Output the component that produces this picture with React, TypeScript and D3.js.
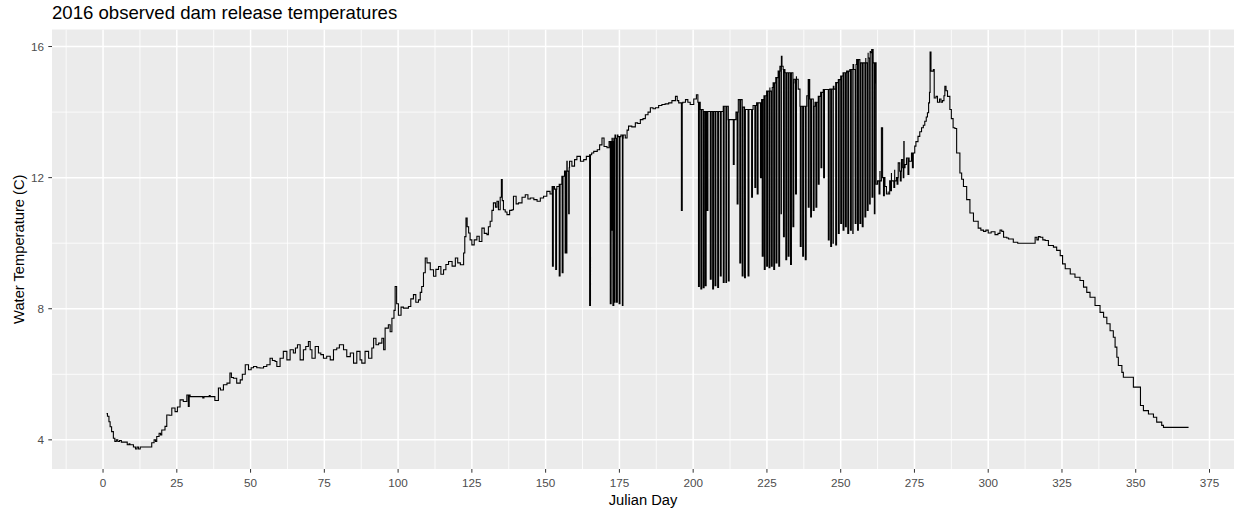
import React from "react";
import * as d3 from "d3";

type Reading = [number, number]; // [julian day, water temperature °C]

const WIDTH = 1241;
const HEIGHT = 512;
const panel = { left: 52, right: 1234, top: 29.5, bottom: 469 };

const titleText = "2016 observed dam release temperatures";
const xTitle = "Julian Day";
const yTitle = "Water Temperature (C)";

const xTicks = [0, 25, 50, 75, 100, 125, 150, 175, 200, 225, 250, 275, 300, 325, 350, 375];
const xMinor = [-12.5, 12.5, 37.5, 62.5, 87.5, 112.5, 137.5, 162.5, 187.5, 212.5, 237.5, 262.5, 287.5, 312.5, 337.5, 362.5];
const yTicks = [4, 8, 12, 16];
const yMinor = [6, 10, 14];

// Winter low and spring warming
const earlyReadings: Reading[] = [
  [1.2, 4.8], [1.5, 4.72], [2.0, 4.55], [2.4, 4.4], [2.9, 4.25], [3.5, 4.05], [4.0, 3.95], [4.5, 4.0],
  [5.0, 3.95], [5.6, 3.98], [6.2, 3.93], [7.5, 3.93], [8.2, 3.85], [8.8, 3.88], [9.1, 3.85], [10.3, 3.78],
  [11.0, 3.72], [11.5, 3.78], [12.0, 3.72], [12.6, 3.78], [16.0, 3.78], [16.5, 3.91], [17.3, 4.0], [17.8, 3.95],
  [18.2, 4.1], [19.0, 4.2], [19.5, 4.15], [19.9, 4.3], [20.5, 4.3], [21.0, 4.41], [21.6, 4.76], [22.4, 4.75],
  [23.3, 4.97], [24.4, 4.86], [25.2, 5.0], [26.1, 5.22], [27.2, 5.17], [28.4, 5.37], [28.9, 5.02], [29.2, 5.37],
  [29.5, 5.32], [33.5, 5.32], [33.8, 5.28], [34.2, 5.32], [36.0, 5.35], [36.3, 5.32], [37.9, 5.2], [39.1, 5.58],
  [39.8, 5.52], [40.8, 5.68], [42.0, 5.73], [43.0, 6.04], [43.5, 5.9], [44.2, 5.88], [45.3, 5.73], [46.5, 5.83],
  [47.2, 6.0], [48.2, 6.29], [49.3, 6.14], [50.2, 6.2], [51.0, 6.24], [52.1, 6.2], [53.2, 6.19], [54.4, 6.24],
  [55.5, 6.29], [56.6, 6.49], [57.4, 6.42], [58.3, 6.39], [58.9, 6.24], [60.0, 6.49], [61.1, 6.7], [62.3, 6.44],
  [63.4, 6.75], [64.5, 6.65], [65.2, 6.8], [65.9, 6.9], [66.8, 6.44], [67.9, 6.75], [68.7, 6.85], [69.6, 7.0],
  [70.2, 6.75], [70.8, 6.49], [71.9, 6.85], [73.0, 6.65], [73.8, 6.6], [74.7, 6.49], [75.8, 6.55], [77.0, 6.44],
  [78.1, 6.75], [79.2, 6.8], [80.1, 6.9], [81.5, 6.75], [82.6, 6.54], [83.8, 6.65], [84.9, 6.34], [86.0, 6.7],
  [87.1, 6.44], [87.7, 6.34], [88.8, 6.7], [90.0, 6.49], [91.1, 6.8], [91.7, 7.1], [92.5, 6.9], [93.4, 6.95],
  [94.5, 7.1], [95.1, 6.75], [95.6, 7.41], [96.7, 7.51], [97.3, 7.3], [97.9, 7.71], [98.6, 7.95], [99.0, 8.68],
  [99.5, 8.15], [100.1, 7.8],
];

// Late spring through midsummer
const summerReadings: Reading[] = [
  [101.0, 8.05], [101.8, 8.02], [103.5, 8.07], [104.3, 8.3], [105.2, 8.43], [106.0, 8.2], [106.9, 8.27], [107.5, 8.5],
  [108.0, 8.68], [108.6, 9.1], [109.2, 9.55], [109.8, 9.4], [110.9, 9.19], [112.0, 8.99], [112.8, 9.2], [113.7, 9.29],
  [114.5, 9.05], [115.4, 9.19], [116.2, 9.35], [117.1, 9.44], [118.3, 9.3], [119.4, 9.55], [120.2, 9.4], [121.1, 9.34],
  [122.2, 9.7], [122.6, 10.2], [123.0, 10.77], [123.4, 10.5], [123.9, 10.31], [124.4, 10.1], [125.0, 9.95], [125.8, 10.1],
  [126.7, 10.21], [127.5, 10.05], [128.4, 10.46], [129.2, 10.3], [130.1, 10.26], [130.6, 10.5], [131.2, 10.67], [131.8, 11.0],
  [132.3, 11.23], [133.0, 11.1], [133.5, 11.28], [134.0, 11.02], [134.6, 11.4], [135.0, 11.94], [135.3, 11.3], [135.7, 11.02],
  [136.3, 10.95], [136.9, 10.87], [137.8, 11.0], [138.6, 11.02], [139.1, 11.43], [140.0, 11.2], [140.8, 11.23], [142.0, 11.4],
  [143.1, 11.48], [144.0, 11.35], [144.8, 11.38], [146.0, 11.33], [147.1, 11.28], [148.2, 11.38], [149.3, 11.43], [150.4, 11.58],
  [151.5, 11.5], [152.2, 11.73], [153.0, 11.65], [153.8, 11.73], [154.6, 11.8], [155.5, 12.04], [156.4, 12.2], [157.2, 12.5],
  [158.0, 12.3], [158.9, 12.35], [159.8, 12.55], [160.6, 12.65], [161.8, 12.5], [162.9, 12.55], [163.8, 12.65], [164.9, 12.7],
  [165.6, 12.75], [166.3, 12.8], [167.5, 12.85], [168.3, 13.0], [169.1, 13.21], [169.8, 12.95], [170.8, 12.91], [171.5, 13.1],
  [172.5, 13.2], [173.5, 13.3], [174.5, 13.25], [175.5, 13.3], [176.2, 13.2], [177.0, 13.21], [177.6, 13.45], [178.1, 13.57],
  [179.2, 13.55], [180.4, 13.67], [181.2, 13.65], [182.1, 13.77], [183.0, 13.8], [183.8, 13.92], [184.7, 14.0], [185.5, 14.13],
  [186.4, 14.1], [187.2, 14.13], [188.3, 14.2], [189.4, 14.23], [190.5, 14.25], [191.7, 14.28], [192.8, 14.35], [194.0, 14.48],
  [194.6, 14.35], [195.1, 14.28], [196.5, 14.3], [197.4, 14.38], [198.2, 14.3], [199.0, 14.23], [200.2, 14.4], [201.1, 14.53],
  [201.6, 14.3],
];

// Peaking-operation period (upper envelope)
const peakingReadings: Reading[] = [
  [202.4, 14.08], [203.4, 14.02], [209.0, 14.02], [210.2, 14.18], [211.3, 13.77], [213.6, 13.77], [214.5, 14.0], [215.3, 14.38],
  [216.1, 14.15], [216.9, 14.08], [219.2, 14.08], [220.3, 14.2], [221.5, 14.28], [223.2, 14.38], [224.0, 14.5], [224.9, 14.64],
  [226.0, 14.75], [227.1, 14.89], [228.0, 15.05], [228.8, 15.25], [229.4, 15.4], [229.9, 15.7], [230.5, 15.3], [231.1, 15.2],
  [232.2, 15.2], [233.3, 14.89], [234.2, 15.0], [235.0, 15.09], [235.6, 14.7], [236.2, 14.18], [237.9, 14.18], [238.5, 14.5],
  [239.0, 14.99], [239.5, 14.4], [240.1, 14.18], [241.3, 14.3], [242.4, 14.48], [243.2, 14.6], [244.1, 14.69], [245.2, 14.69],
  [246.3, 14.7], [247.5, 14.79], [248.3, 14.9], [249.2, 14.99], [250.0, 15.1], [250.8, 15.2], [252.0, 15.25], [253.1, 15.3],
  [254.2, 15.45], [255.4, 15.6], [256.5, 15.5], [257.6, 15.5], [258.5, 15.65], [259.3, 15.81], [260.0, 15.85], [260.5, 15.91],
  [261.0, 15.5], [261.6, 14.89],
];

// Autumn peak and winter cooling
const lateReadings: Reading[] = [
  [262.0, 11.8], [262.5, 11.9], [263.3, 12.2], [263.8, 13.52], [264.2, 12.0], [265.0, 11.73], [265.5, 11.5], [266.1, 11.58],
  [266.6, 11.9], [267.2, 12.14], [267.8, 11.9], [268.3, 12.24], [268.9, 12.0], [269.5, 12.45], [270.0, 12.2], [270.6, 12.55],
  [271.0, 12.3], [271.4, 13.1], [271.8, 12.4], [272.3, 12.6], [273.2, 12.5], [274.0, 12.75], [274.6, 12.6], [275.1, 12.96],
  [275.5, 13.1], [276.2, 13.26], [276.8, 13.4], [277.4, 13.52], [278.0, 13.6], [278.5, 13.72], [279.0, 13.85], [279.4, 13.98],
  [279.8, 14.28], [280.1, 14.6], [280.3, 15.83], [280.6, 15.25], [281.4, 15.3], [281.7, 14.43], [282.3, 14.48], [282.8, 14.3],
  [283.5, 14.4], [284.0, 14.3], [284.5, 14.35], [285.0, 14.5], [285.3, 14.79], [285.7, 14.65], [286.2, 14.48], [287.0, 14.08],
  [287.5, 13.8], [288.1, 13.52], [288.7, 13.5], [289.3, 12.75], [290.4, 12.14], [291.0, 11.95], [291.6, 11.73], [292.7, 11.33],
  [293.8, 10.92], [295.0, 10.67], [296.6, 10.46], [297.5, 10.4], [298.4, 10.36], [299.2, 10.4], [300.0, 10.31], [301.0, 10.35],
  [302.3, 10.26], [303.3, 10.3], [304.0, 10.4], [304.6, 10.36], [305.2, 10.18], [306.3, 10.16], [306.9, 10.13], [308.5, 10.03],
  [310.0, 10.0], [315.3, 10.0], [315.9, 10.18], [316.5, 10.1], [317.0, 10.2], [317.6, 10.18], [318.5, 10.1], [319.3, 10.08],
  [320.4, 9.93], [322.1, 9.88], [323.2, 9.78], [324.4, 9.62], [325.2, 9.37], [326.1, 9.22], [327.8, 9.06], [329.4, 8.96],
  [331.1, 8.86], [332.3, 8.66], [333.4, 8.5], [334.5, 8.35], [336.2, 8.1], [337.9, 7.89], [339.1, 7.74], [340.2, 7.54],
  [341.3, 7.33], [342.4, 7.13], [343.0, 6.83], [343.6, 6.52], [344.1, 6.27], [345.3, 6.06], [345.8, 5.91], [348.7, 5.91],
  [349.2, 5.61], [351.5, 5.61], [351.6, 5.05], [352.6, 4.89], [354.3, 4.79], [356.0, 4.69], [357.1, 4.54], [358.8, 4.44],
  [359.4, 4.38], [367.9, 4.38],
];

// Short-lived drops in release temperature: [day, lowest reading]
const releaseDrops: Reading[] = [
  [152.3, 9.3], [153.4, 9.2], [154.6, 9.0], [155.6, 9.1], [156.6, 9.7], [157.0, 9.7], [157.8, 10.9],
  [164.9, 8.1],
  [171.9, 8.15], [172.3, 10.4], [172.8, 8.1], [173.4, 8.2], [174.0, 8.2], [174.9, 8.15], [176.0, 8.1],
  [196.0, 11.0],
  [201.8, 8.68], [202.6, 8.6], [203.4, 8.64], [204.1, 8.7], [204.7, 11.0], [205.8, 8.9], [206.6, 8.6], [207.4, 8.7],
  [208.3, 8.65], [209.2, 9.0], [210.2, 8.8], [211.1, 8.8], [211.9, 8.85], [213.6, 12.4], [214.9, 11.2], [215.8, 9.4],
  [216.6, 9.0], [217.4, 8.95], [218.6, 9.0], [219.8, 11.4], [220.9, 11.7], [221.7, 11.5], [222.8, 12.0], [223.4, 9.6],
  [224.1, 9.2], [224.9, 9.3], [225.7, 9.25], [226.5, 9.3], [227.3, 9.2], [228.1, 9.4], [229.0, 9.3], [229.8, 10.9],
  [230.6, 10.2], [231.4, 9.5], [232.2, 9.6], [233.0, 9.35], [233.8, 10.5], [234.7, 11.5], [236.3, 9.9], [237.1, 9.6],
  [238.0, 9.5], [239.0, 11.1], [239.8, 10.8], [240.7, 11.0], [241.6, 11.1], [242.4, 11.8], [243.3, 12.3], [244.2, 12.0],
  [245.8, 10.1], [246.6, 9.9], [247.4, 10.0], [248.3, 9.95], [249.2, 10.3], [250.0, 10.6], [250.8, 10.4], [251.6, 10.5],
  [252.4, 10.3], [253.3, 10.4], [254.1, 10.3], [254.9, 10.6], [255.7, 10.4], [256.5, 10.6], [257.3, 10.5], [258.2, 10.8],
  [259.0, 11.0], [259.8, 11.2], [260.6, 11.4], [261.4, 10.9],
  [263.0, 11.5], [264.5, 11.45], [265.8, 11.5], [266.9, 11.6], [268.0, 11.7], [269.1, 11.8], [270.2, 11.9], [271.2, 12.0],
  [272.8, 12.1], [274.3, 12.3],
];

function buildSeries(): Reading[] {
  const base = [...earlyReadings, ...summerReadings, ...peakingReadings, ...lateReadings].sort((a, b) => a[0] - b[0]);
  // value held by the stepped record at a given day
  const levelAt = (day: number) => {
    let v = base[0][1];
    for (const p of base) {
      if (p[0] <= day) v = p[1];
      else break;
    }
    return v;
  };
  const pts: Reading[] = [...base];
  for (const [day, low] of releaseDrops) {
    const level = levelAt(day);
    pts.push([day + 0.01, low], [day + 0.3, level]);
  }
  return pts.sort((a, b) => a[0] - b[0]);
}

const series = buildSeries();

const x = d3.scaleLinear().domain([-17.3, 383.3]).range([panel.left, panel.right]);
const allTemps = series.map((d) => d[1]);
const tMin = d3.min(allTemps) as number;
const tMax = d3.max(allTemps) as number;
const pad = (tMax - tMin) * 0.05;
const y = d3.scaleLinear().domain([tMin - pad, tMax + pad]).range([panel.bottom, panel.top]);

const linePath = d3
  .line<Reading>()
  .x((d) => x(d[0]))
  .y((d) => y(d[1]))
  .curve(d3.curveStepAfter)(series) as string;

const FONT = "'Liberation Sans', Arial, Helvetica, sans-serif";

export default function App() {
  const pw = panel.right - panel.left;
  const ph = panel.bottom - panel.top;
  return (
    <svg width={WIDTH} height={HEIGHT} style={{ display: "block", position: "absolute", left: 0, top: 0 }} fontFamily={FONT}>
      <rect x={0} y={0} width={WIDTH} height={HEIGHT} fill="#ffffff" />
      <defs>
        <clipPath id="panel-clip">
          <rect x={panel.left} y={panel.top} width={pw} height={ph} />
        </clipPath>
      </defs>
      <rect x={panel.left} y={panel.top} width={pw} height={ph} fill="#EBEBEB" />
      <g stroke="#ffffff" clipPath="url(#panel-clip)">
        {xMinor.map((v) => (
          <line key={`xm${v}`} x1={x(v)} x2={x(v)} y1={panel.top} y2={panel.bottom} strokeWidth={0.8} />
        ))}
        {yMinor.map((v) => (
          <line key={`ym${v}`} x1={panel.left} x2={panel.right} y1={y(v)} y2={y(v)} strokeWidth={0.8} />
        ))}
        {xTicks.map((v) => (
          <line key={`xM${v}`} x1={x(v)} x2={x(v)} y1={panel.top} y2={panel.bottom} strokeWidth={1.5} />
        ))}
        {yTicks.map((v) => (
          <line key={`yM${v}`} x1={panel.left} x2={panel.right} y1={y(v)} y2={y(v)} strokeWidth={1.5} />
        ))}
      </g>
      <path d={linePath} fill="none" stroke="#000000" strokeWidth={1.1} clipPath="url(#panel-clip)" />
      <g stroke="#333333" strokeWidth={1}>
        {xTicks.map((v) => (
          <line key={`xt${v}`} x1={x(v)} x2={x(v)} y1={panel.bottom} y2={panel.bottom + 3.7} />
        ))}
        {yTicks.map((v) => (
          <line key={`yt${v}`} x1={panel.left - 3.7} x2={panel.left} y1={y(v)} y2={y(v)} />
        ))}
      </g>
      <g fill="#4D4D4D" fontSize={11.7}>
        {xTicks.map((v) => (
          <text key={`xl${v}`} x={x(v)} y={panel.bottom + 17.5} textAnchor="middle">
            {v}
          </text>
        ))}
        {yTicks.map((v) => (
          <text key={`yl${v}`} x={panel.left - 8} y={y(v) + 4.1} textAnchor="end">
            {v}
          </text>
        ))}
      </g>
      <text x={panel.left} y={19} fontSize={18.6} fill="#000000">
        {titleText}
      </text>
      <text x={(panel.left + panel.right) / 2} y={505} fontSize={14.7} fill="#000000" textAnchor="middle">
        {xTitle}
      </text>
      <text
        transform={`translate(24, ${(panel.top + panel.bottom) / 2}) rotate(-90)`}
        fontSize={14.7}
        fill="#000000"
        textAnchor="middle"
      >
        {yTitle}
      </text>
    </svg>
  );
}
